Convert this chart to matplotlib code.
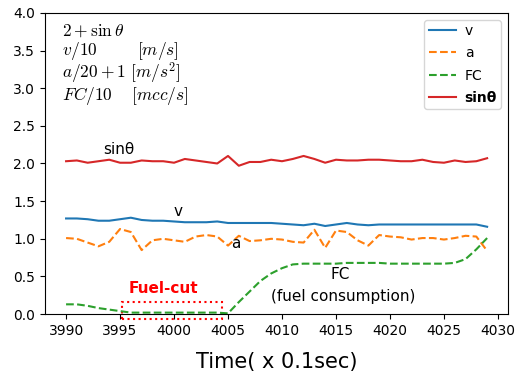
import matplotlib
matplotlib.use("Agg")
import matplotlib.pyplot as plt
from matplotlib.patches import Rectangle

plt.rcParams['mathtext.fontset'] = 'cm'

# time steps (x 0.1 sec)
t = list(range(3990, 4030))

sin_theta = [2.03, 2.04, 2.01, 2.03, 2.05, 2.01, 2.01, 2.04, 2.03, 2.03,
             2.01, 2.06, 2.04, 2.02, 2.00, 2.10, 1.97, 2.02, 2.02, 2.05,
             2.03, 2.06, 2.10, 2.06, 2.01, 2.05, 2.04, 2.04, 2.05, 2.05,
             2.04, 2.03, 2.03, 2.05, 2.02, 2.01, 2.04, 2.02, 2.03, 2.07]

v = [1.27, 1.27, 1.26, 1.24, 1.24, 1.26, 1.28, 1.25, 1.24, 1.24,
     1.23, 1.22, 1.22, 1.22, 1.23, 1.21, 1.21, 1.21, 1.21, 1.21,
     1.20, 1.19, 1.18, 1.20, 1.17, 1.19, 1.21, 1.19, 1.18, 1.19,
     1.19, 1.19, 1.19, 1.19, 1.19, 1.19, 1.19, 1.19, 1.19, 1.16]

a = [1.01, 1.00, 0.95, 0.90, 0.96, 1.13, 1.09, 0.85, 0.98, 1.00,
     0.98, 0.96, 1.03, 1.05, 1.03, 0.91, 1.04, 0.97, 0.98, 1.00,
     0.99, 0.96, 0.95, 1.12, 0.88, 1.11, 1.09, 0.98, 0.91, 1.05,
     1.03, 1.02, 0.99, 1.01, 1.01, 0.99, 1.01, 1.04, 1.03, 0.84]

fc = [0.13, 0.13, 0.11, 0.08, 0.06, 0.04, 0.02, 0.02, 0.02, 0.02,
      0.02, 0.02, 0.02, 0.02, 0.02, 0.01, 0.16, 0.30, 0.44, 0.54,
      0.61, 0.66, 0.67, 0.67, 0.67, 0.67, 0.68, 0.68, 0.68, 0.68,
      0.67, 0.67, 0.67, 0.67, 0.67, 0.67, 0.68, 0.73, 0.86, 1.01]

fig = plt.figure(figsize=(5.21, 3.78), dpi=100)
ax = fig.add_axes([0.0864, 0.169, 0.889, 0.797])

ax.plot(t, v, color='tab:blue', lw=1.5, label='v')
ax.plot(t, a, color='tab:orange', lw=1.5, ls='--', label='a')
ax.plot(t, fc, color='tab:green', lw=1.5, ls='--', label='FC')
ax.plot(t, sin_theta, color='tab:red', lw=1.5, label='sinθ')

ax.set_ylim(0, 4.0)
ax.set_xticks(range(3990, 4031, 5))
ax.set_yticks([0, 0.5, 1.0, 1.5, 2.0, 2.5, 3.0, 3.5, 4.0])
ax.tick_params(labelsize=10)
ax.set_xlabel('Time( x 0.1sec)', fontsize=15, labelpad=10)

leg = ax.legend(loc='upper right', fontsize=10, borderpad=0.3,
                labelspacing=0.6, handletextpad=0.6)
leg.get_texts()[3].set_fontweight('bold')

# formula box
ax.text(3989.6, 3.77, r'$2+\sin\theta$', fontsize=12.5, va='center')
ax.text(3989.6, 3.49, r'$v/10\quad\quad\ \ [m/s]$', fontsize=12.5, va='center')
ax.text(3989.6, 3.19, r'$a/20+1\ [m/s^2]$', fontsize=12.5, va='center')
ax.text(3989.6, 2.90, r'$FC/10\quad\ [mcc/s]$', fontsize=12.5, va='center')

# line labels
ax.text(3994.9, 2.18, 'sinθ', fontsize=11, ha='center', va='center')
ax.text(4000.4, 1.36, 'v', fontsize=11, ha='center', va='center')
ax.text(4005.7, 0.94, 'a', fontsize=11, ha='center', va='center')
ax.text(4015.4, 0.52, 'FC', fontsize=11, ha='center', va='center')
ax.text(4015.7, 0.23, '(fuel consumption)', fontsize=11, ha='center', va='center')
ax.text(3999.0, 0.34, 'Fuel-cut', fontsize=11, ha='center', va='center',
        color='red', fontweight='bold')

ax.add_patch(Rectangle((3995.2, -0.07), 9.2, 0.225, fill=False,
                       ec='red', ls=':', lw=1.5, clip_on=False))

fig.savefig('out.png', dpi=100)
